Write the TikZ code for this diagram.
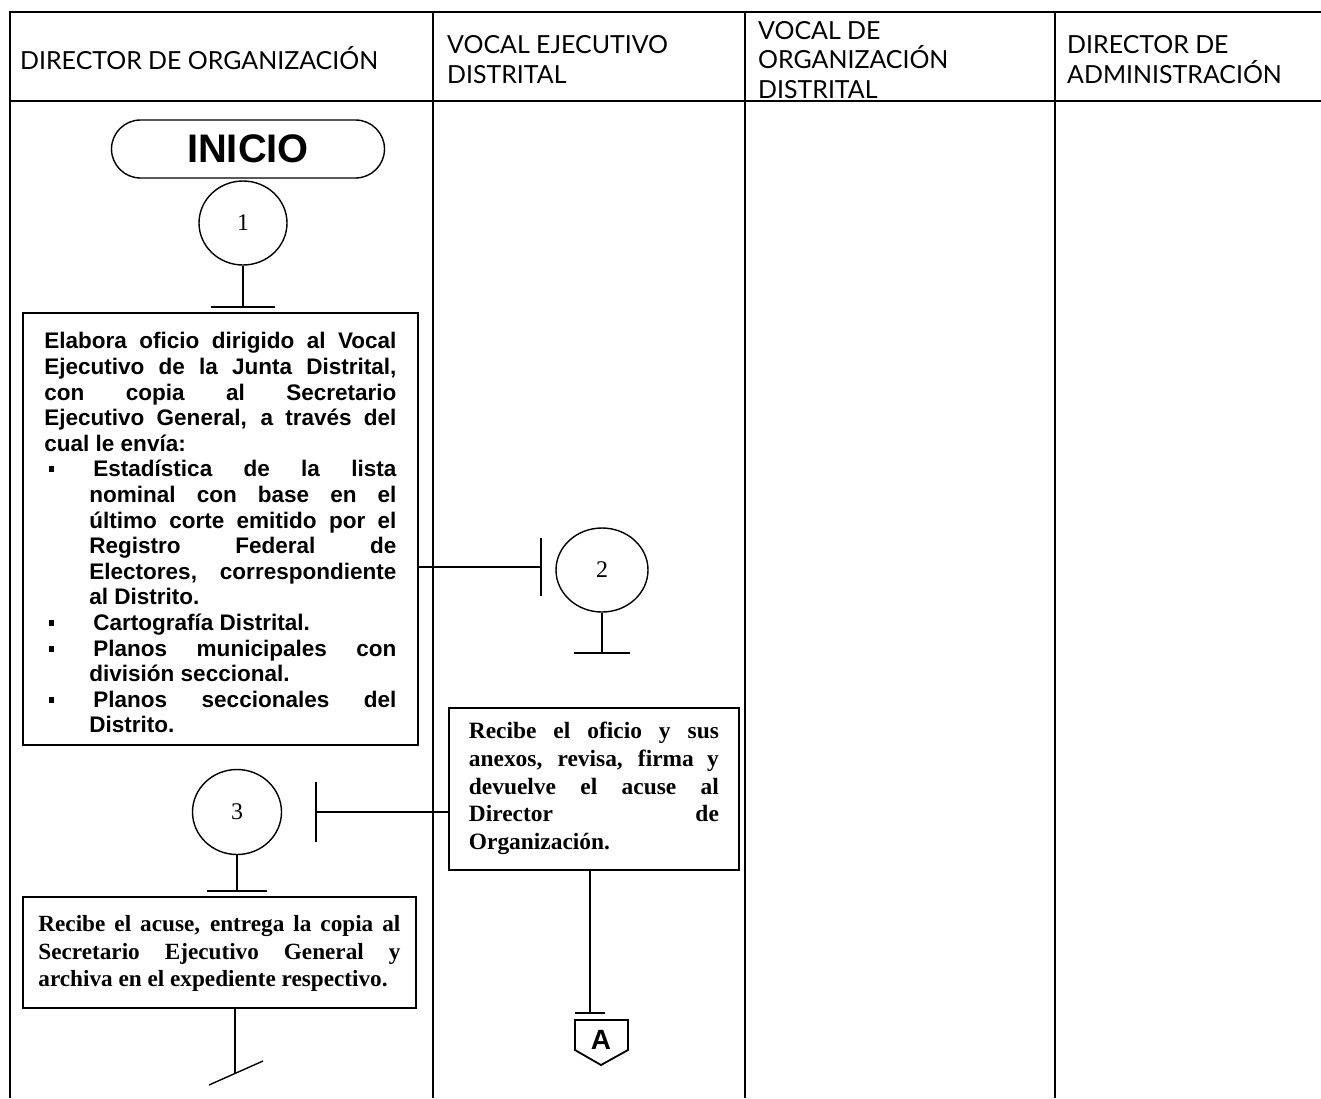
\documentclass[tikz,border=0pt]{standalone}
\usepackage{fontspec}
\setmainfont{Liberation Serif}
\newfontfamily\hdrfont{Lato}
\newfontfamily\arialfont{Liberation Sans}
\usetikzlibrary{shapes.geometric,shapes.misc}
\newcommand\itmbul{\par\noindent\hangindent=45bp\hangafter=1\makebox[49bp][l]{\hspace{4.5bp}\rule[4.5bp]{5.5bp}{6bp}}}
\begin{document}
\begin{tikzpicture}[x=1bp,y=-1bp,
  tbl/.style={line width=1.3bp},
  hdr/.style={anchor=west,align=left,inner sep=0pt,font=\hdrfont\fontsize{25}{30}\selectfont},
  boxn/.style={draw,line width=1.8bp,anchor=north west,inner ysep=6bp},
  circ/.style={draw,ellipse,line width=1.4bp,inner sep=0pt,font=\fontsize{24}{24}\selectfont},
  conn/.style={line width=1.4bp},
  barl/.style={line width=2bp}]
\useasboundingbox (0,0) rectangle (1321,1098);
% table
\draw[tbl] (1321,12) -- (10,12) -- (10,1098);
\draw[tbl] (10,101) -- (1321,101);
\draw[tbl] (433,12) -- (433,1098);
\draw[tbl] (745,12) -- (745,1098);
\draw[tbl] (1055,12) -- (1055,1098);
\node[hdr] (h1) at (20,58) {DIRECTOR DE ORGANIZACIÓN};
\node[hdr] (h2) at (447,60) {VOCAL EJECUTIVO\\DISTRITAL};
\node[hdr] (h3) at (758,60) {VOCAL DE\\ORGANIZACIÓN\\DISTRITAL};
\node[hdr] (h4) at (1067,60) {DIRECTOR DE\\ADMINISTRACIÓN};
% start
\node[draw,rounded rectangle,line width=1.4bp,minimum width=273bp,minimum height=58bp,inner sep=0pt,font=\arialfont\bfseries\fontsize{40}{40}\selectfont] (ini) at (248,149) {INICIO};
\node[circ,minimum width=88bp,minimum height=84bp] (c1) at (243,223) {1};
\coordinate (t1) at (243,307);
\draw[conn] (c1) -- (t1);
\draw[barl] (t1) ++(-32,0) -- ++(64,0);
% box 1
\node[boxn,text width=352bp,inner xsep=21.5bp,align=justify,font=\arialfont\bfseries\fontsize{22.6}{25.7}\selectfont] (b1) at (22,312) {\parskip=0pt\noindent\rule{0pt}{30bp}Elabora oficio dirigido al Vocal\linebreak Ejecutivo de la Junta Distrital,\linebreak con copia al Secretario\linebreak Ejecutivo General, a través del\linebreak cual le envía:
\itmbul Estadística de la lista\linebreak nominal con base en el\linebreak último corte emitido por el\linebreak Registro Federal de\linebreak Electores, correspondiente\linebreak al Distrito.
\itmbul Cartografía Distrital.
\itmbul Planos municipales con\linebreak división seccional.
\itmbul Planos seccionales del\linebreak Distrito.\rule[-6bp]{0pt}{6bp}\par};
% to circle 2
\coordinate (t2) at (541,567);
\draw[conn] (t2 -| b1.east) -- (t2);
\draw[barl] (t2) ++(0,-29) -- ++(0,58);
\node[circ,minimum width=92bp,minimum height=84bp] (c2) at (602,570) {2};
\coordinate (t2b) at (602,653);
\draw[conn] (c2) -- (t2b);
\draw[barl] (t2b) ++(-28,0) -- ++(56,0);
% box 2
\node[boxn,text width=250bp,inner xsep=20bp,align=justify,font=\bfseries\fontsize{23.5}{27.7}\selectfont] (b2) at (448,707) {\noindent\rule{0pt}{25bp}Recibe el oficio y sus\linebreak anexos, revisa, firma y\linebreak devuelve el acuse al\linebreak Director de\linebreak Organización.\rule[-15bp]{0pt}{15bp}\par};
% to circle 3
\coordinate (t3) at (316,812);
\draw[conn] (t3 -| b2.west) -- (t3);
\draw[barl] (t3) ++(0,-30) -- ++(0,60);
\node[circ,minimum width=89bp,minimum height=85bp] (c3) at (237,812) {3};
\coordinate (t3b) at (237,891);
\draw[conn] (c3) -- (t3b);
\draw[barl] (t3b) ++(-30,0) -- ++(60,0);
% box 3
\node[boxn,text width=362bp,inner xsep=15.5bp,align=justify,font=\bfseries\fontsize{23.3}{27.5}\selectfont] (b3) at (22,896) {\noindent\rule{0pt}{29bp}Recibe el acuse, entrega la copia al\linebreak Secretario Ejecutivo General y\linebreak archiva en el expediente respectivo.\rule[-15bp]{0pt}{15bp}\par};
\coordinate (e3) at (235,1073);
\coordinate (e3a) at (209,1085);
\coordinate (e3b) at (263,1061);
\draw[conn] (b3.south -| e3) -- (e3);
\draw[conn] (e3a) -- (e3b);
% to connector A
\coordinate (t4) at (590,1013);
\draw[conn] (b2.south -| t4) -- (t4);
\draw[barl] (t4) ++(-15,0) -- ++(30,0);
\node[inner sep=0pt,font=\arialfont\bfseries\fontsize{28}{28}\selectfont] (A) at (601,1040) {A};
\draw[line width=1.8bp] (575,1020) -- (628,1020) -- (628,1050) -- (601,1065) -- (575,1050) -- cycle;
\end{tikzpicture}
\end{document}
